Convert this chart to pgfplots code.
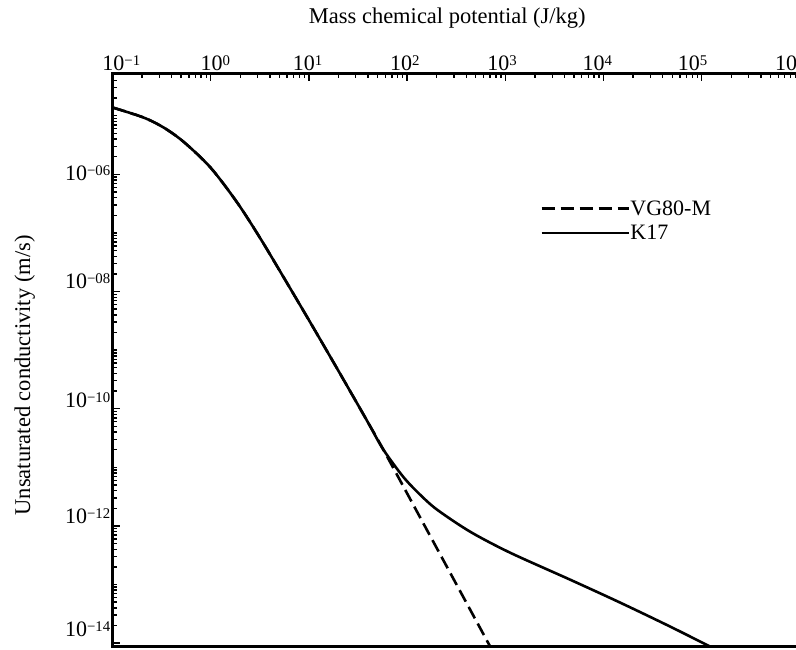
\documentclass[border=0pt]{standalone}
\usepackage{fontspec}
\setmainfont{Liberation Serif}
\usepackage{pgfplots}
\pgfplotsset{compat=1.18}
\newcommand{\xl}[2]{\rlap{\kern\dimexpr#1-11bp\relax 10\raisebox{5bp}{\fontsize{14.8bp}{15bp}\selectfont #2}}}
\newcommand{\yl}[2]{\raisebox{#1}[0pt][0pt]{10\raisebox{5bp}{\fontsize{14.8bp}{15bp}\selectfont #2}}}
\pgfplotstableread{
x y
0.1 1.384e-5
0.2065 9.35e-6
0.3304 6.32e-6
0.5272 3.614e-6
0.9931 1.312e-6
1.871 3.258e-7
3.206 8.035e-8
5.495 1.778e-8
10.33 2.965e-9
19.45 4.786e-10
33.34 9.93e-11
42.17 4.966e-11
57.15 2.014e-11
91.2 6.89e-12
135.8 3.40e-12
202.3 1.888e-12
438.5 7.96e-13
1119 3.49e-13
4560 1.211e-13
14720 4.92e-14
47530 1.919e-14
121060 8.75e-15
}\kseventeen
\pgfplotstableread{
x y
0.1 1.384e-5
0.2065 9.35e-6
0.3304 6.32e-6
0.5272 3.614e-6
0.9931 1.312e-6
1.871 3.258e-7
3.206 8.035e-8
5.495 1.778e-8
10.33 2.965e-9
19.45 4.786e-10
33.34 9.93e-11
42.17 4.966e-11
57.15 2.014e-11
202.3 4.055e-13
699.8 8.75e-15
}\vgeighty
\begin{document}
\begin{tikzpicture}
\useasboundingbox (0,0) rectangle (796bp,650bp);
\begin{axis}[
  at={(112.5bp,3.5bp)}, anchor=south west,
  scale only axis, width=687.5bp, height=573bp,
  xmode=log, ymode=log,
  xmin=0.1, xmax=1e6, ymin=8.75e-15, ymax=5.26e-5,
  axis line style={line width=3bp},
  tick style={line width=1.4bp, black},
  major tick length=8bp, minor tick length=4.5bp,
  tick align=inside,
  xtick pos=upper, xticklabel pos=upper, ytick pos=left,
  xtick={1e-1,1e0,1e1,1e2,1e3,1e4,1e5,1e6},
  xticklabels={\xl{1bp}{−1},\xl{1bp}{0},\xl{-5bp}{1},\xl{-6bp}{2},\xl{-7bp}{3},\xl{-10bp}{4},\xl{-13bp}{5},\xl{-14bp}{6}},
  minor xtick={2e-1,3e-1,4e-1,5e-1,6e-1,7e-1,8e-1,9e-1,2,3,4,5,6,7,8,9,20,30,40,50,60,70,80,90,200,300,400,500,600,700,800,900,2e3,3e3,4e3,5e3,6e3,7e3,8e3,9e3,2e4,3e4,4e4,5e4,6e4,7e4,8e4,9e4,2e5,3e5,4e5,5e5,6e5,7e5,8e5,9e5},
  ytick={1e-14,1e-12,1e-10,1e-8,1e-6},
  yticklabels={\yl{14bp}{−14},\yl{10bp}{−12},\yl{9bp}{−10},\yl{10bp}{−08},\yl{1bp}{−06}},
  minor ytick={9e-15,2e-14,3e-14,4e-14,5e-14,6e-14,7e-14,8e-14,9e-14,1e-13,2e-13,3e-13,4e-13,5e-13,6e-13,7e-13,8e-13,9e-13,2e-12,3e-12,4e-12,5e-12,6e-12,7e-12,8e-12,9e-12,1e-11,2e-11,3e-11,4e-11,5e-11,6e-11,7e-11,8e-11,9e-11,2e-10,3e-10,4e-10,5e-10,6e-10,7e-10,8e-10,9e-10,1e-9,2e-9,3e-9,4e-9,5e-9,6e-9,7e-9,8e-9,9e-9,2e-8,3e-8,4e-8,5e-8,6e-8,7e-8,8e-8,9e-8,1e-7,2e-7,3e-7,4e-7,5e-7,6e-7,7e-7,8e-7,9e-7,2e-6,3e-6,4e-6,5e-6,6e-6,7e-6,8e-6,9e-6,1e-5,2e-5,3e-5,4e-5,5e-5},
  xticklabel style={anchor=base, yshift=3bp, font=\fontsize{22bp}{24bp}\selectfont},
  yticklabel style={anchor=base east, yshift=-7.4bp, xshift=-2bp, inner xsep=0pt, font=\fontsize{22bp}{24bp}\selectfont},
  xlabel={Mass chemical potential (J/kg)},
  ylabel={Unsaturated conductivity (m/s)},
  xlabel style={at={(axis description cs:0.487,1)}, anchor=base, yshift=50bp, font=\fontsize{22.5bp}{24bp}\selectfont},
  ylabel style={at={(axis description cs:-0.12,0.473)}, anchor=base, font=\fontsize{22.5bp}{24bp}\selectfont},
  legend style={at={(axis description cs:0.622,0.743)}, anchor=west, draw=none, fill=none, inner sep=0pt, row sep=8bp,
    font=\fontsize{22bp}{24bp}\selectfont, nodes={inner xsep=0.5bp, inner ysep=0pt}},
  legend cell align=left,
  legend image code/.code={\draw[#1] (0bp,0bp) -- (87bp,0bp);},
]
\addplot[black, line width=2.6bp, dash pattern=on 13bp off 6bp, smooth, tension=0.5] table {\vgeighty};
\addlegendentry{VG80-M}
\addplot[black, line width=2.6bp, smooth, tension=0.5] table {\kseventeen};
\addlegendentry{K17}
\end{axis}
\end{tikzpicture}
\end{document}
